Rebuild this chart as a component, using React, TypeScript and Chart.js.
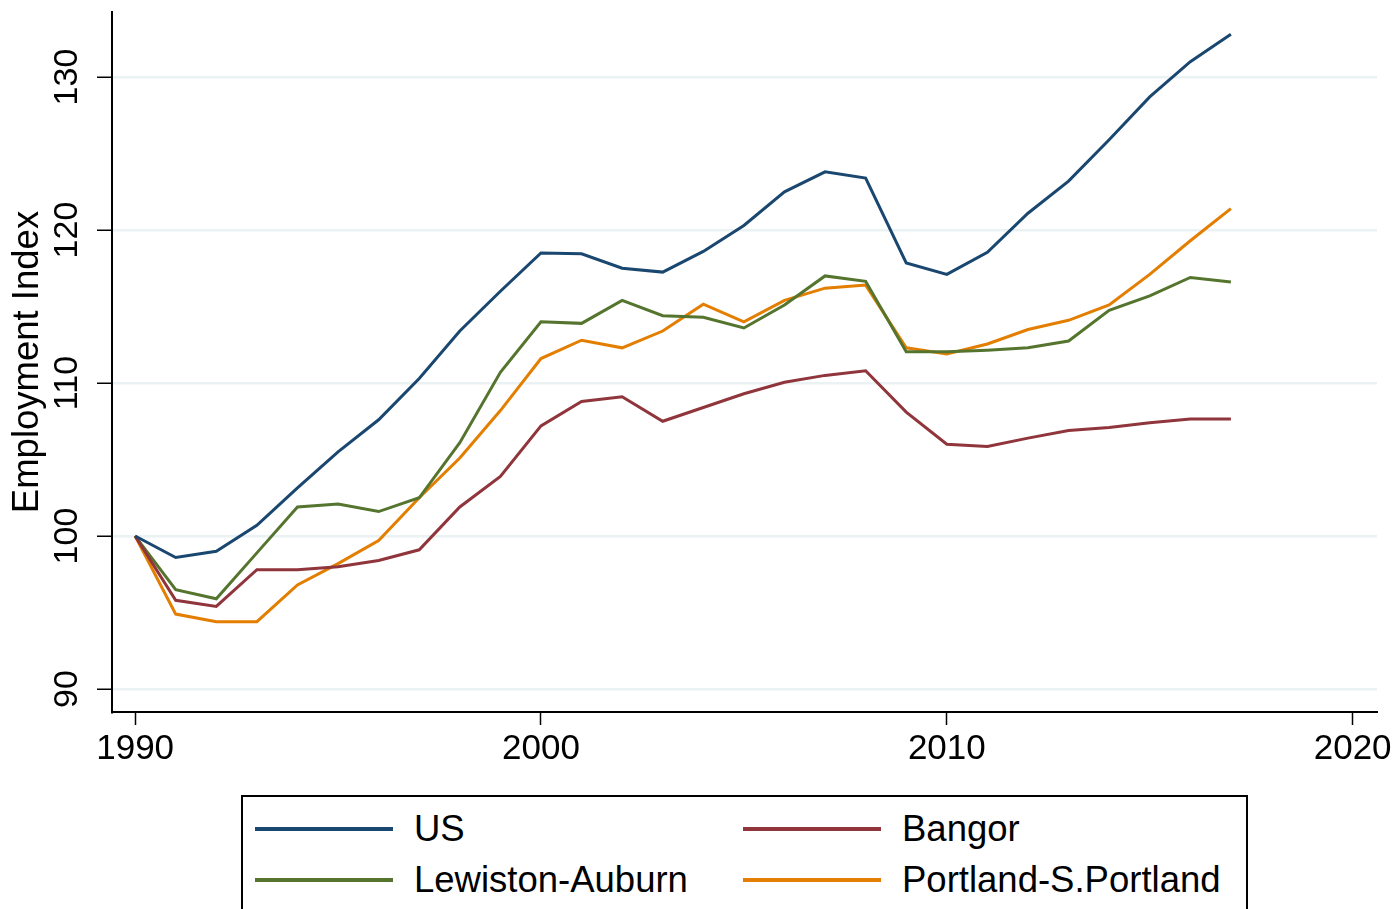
import React, { useEffect, useRef } from "react";
import { Chart, registerables } from "chart.js";

Chart.register(...registerables);

const years = [1990, 1991, 1992, 1993, 1994, 1995, 1996, 1997, 1998, 1999, 2000, 2001, 2002, 2003, 2004, 2005, 2006, 2007, 2008, 2009, 2010, 2011, 2012, 2013, 2014, 2015, 2016, 2017];
const usValues = [100, 98.6, 99.0, 100.7, 103.15, 105.5, 107.6, 110.3, 113.4, 116.0, 118.5, 118.45, 117.5, 117.25, 118.6, 120.3, 122.5, 123.8, 123.4, 117.85, 117.1, 118.55, 121.1, 123.2, 125.9, 128.7, 131.0, 132.8];
const lewistonValues = [100, 96.5, 95.9, 98.9, 101.9, 102.1, 101.6, 102.5, 106.1, 110.7, 114.0, 113.9, 115.4, 114.4, 114.3, 113.6, 115.1, 117.0, 116.65, 112.05, 112.05, 112.15, 112.3, 112.75, 114.75, 115.7, 116.9, 116.6];
const bangorValues = [100, 95.8, 95.4, 97.8, 97.8, 98.0, 98.4, 99.1, 101.9, 103.9, 107.2, 108.8, 109.1, 107.5, 108.4, 109.3, 110.05, 110.5, 110.8, 108.1, 106.0, 105.85, 106.4, 106.9, 107.1, 107.4, 107.65, 107.65];
const portlandValues = [100, 94.9, 94.4, 94.4, 96.8, 98.2, 99.7, 102.5, 105.1, 108.2, 111.6, 112.8, 112.3, 113.4, 115.15, 114.0, 115.4, 116.2, 116.4, 112.3, 111.9, 112.55, 113.5, 114.1, 115.1, 117.1, 119.3, 121.4];

const xTicks = [1990, 2000, 2010, 2020];
const yTicks = [90, 100, 110, 120, 130];

const seriesNames = ["US", "Bangor", "Lewiston-Auburn", "Portland-S.Portland"];
const seriesColors = ["#1a476f", "#90353b", "#55752f", "#e37e00"];
const seriesValues = [usValues, bangorValues, lewistonValues, portlandValues];

const FONT = '"Liberation Sans", Arial, sans-serif';

export default function App() {
  const canvasRef = useRef<HTMLCanvasElement | null>(null);

  useEffect(() => {
    document.body.style.margin = "0";
    const ctx = canvasRef.current!.getContext("2d")!;
    const chart = new Chart(ctx, {
      type: "line",
      data: {
        datasets: seriesNames.map((name, i) => ({
          label: name,
          data: years.map((yr, j) => ({ x: yr, y: seriesValues[i][j] })),
          borderColor: seriesColors[i],
          backgroundColor: seriesColors[i],
          borderWidth: 3,
          pointRadius: 0,
          tension: 0,
          fill: false,
        })),
      },
      options: {
        animation: false,
        responsive: false,
        maintainAspectRatio: false,
        layout: { padding: { left: 0, top: 12, right: 21, bottom: 0 } },
        plugins: {
          legend: { display: false },
          tooltip: { enabled: false },
          title: { display: false },
        },
        scales: {
          x: {
            type: "linear",
            min: 1989.43,
            max: 2020.6,
            afterBuildTicks: (scale: any) => {
              scale.ticks = xTicks.map((v) => ({ value: v }));
            },
            afterFit: (scale: any) => {
              scale.height = 197;
              scale.paddingLeft = 0;
              scale.paddingRight = 0;
            },
            grid: {
              drawOnChartArea: false,
              drawTicks: true,
              tickLength: 13,
              tickColor: "#000",
              tickWidth: 1.5,
            },
            border: { display: true, color: "#000", width: 2 },
            ticks: {
              color: "#000",
              font: { family: FONT, size: 35 },
              padding: 3,
              maxRotation: 0,
              minRotation: 0,
              callback: (v: any) => String(v),
            },
          },
          y: {
            type: "linear",
            min: 88.5,
            max: 134.25,
            afterBuildTicks: (scale: any) => {
              scale.ticks = yTicks.map((v) => ({ value: v }));
            },
            afterFit: (scale: any) => {
              scale.width = 112;
              scale.paddingTop = 0;
              scale.paddingBottom = 0;
            },
            grid: {
              color: "#eaf2f3",
              lineWidth: 2.5,
              drawTicks: true,
              tickLength: 15,
              tickColor: "#000",
              tickWidth: 1.5,
            },
            border: { display: true, color: "#000", width: 2 },
            ticks: {
              color: "#000",
              font: { family: FONT, size: 34 },
              padding: 1,
              minRotation: 90,
              maxRotation: 90,
              crossAlign: "center",
              callback: (v: any) => String(v),
            },
            title: {
              display: true,
              text: "Employment Index",
              color: "#000",
              font: { family: FONT, size: 36.5 },
              padding: { top: 6, bottom: 0 },
            },
          },
        },
      } as any,
    });
    return () => chart.destroy();
  }, []);

  const legendRows = [
    [0, 1],
    [2, 3],
  ];
  const rowCenters = [829, 880];
  const colLineX = [255, 743];
  const colTextX = [414, 902];

  return (
    <div style={{ position: "relative", width: 1398, height: 909, overflow: "hidden", background: "#fff" }}>
      <canvas ref={canvasRef} width={1398} height={909} style={{ position: "absolute", left: 0, top: 0, width: 1398, height: 909 }} />
      <div
        style={{
          position: "absolute",
          left: 241,
          top: 795,
          width: 1003,
          height: 160,
          border: "2px solid #000",
          background: "#fff",
        }}
      />
      {legendRows.map((row, r) =>
        row.map((si, c) => (
          <React.Fragment key={`${r}-${c}`}>
            <div
              style={{
                position: "absolute",
                left: colLineX[c],
                top: rowCenters[r] - 2,
                width: 138,
                height: 4,
                background: seriesColors[si],
              }}
            />
            <div
              style={{
                position: "absolute",
                left: colTextX[c],
                top: rowCenters[r] - 20,
                height: 40,
                lineHeight: "40px",
                fontFamily: FONT,
                fontSize: 36.5,
                color: "#000",
                whiteSpace: "nowrap",
              }}
            >
              {seriesNames[si]}
            </div>
          </React.Fragment>
        ))
      )}
    </div>
  );
}
